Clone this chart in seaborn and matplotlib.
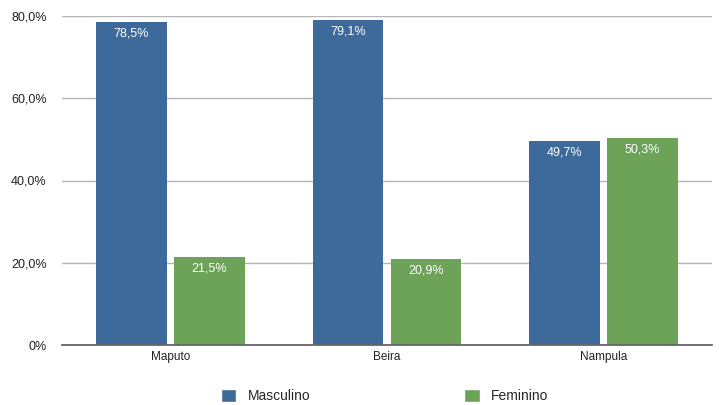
import matplotlib
matplotlib.use("Agg")
import matplotlib.pyplot as plt
import pandas as pd
import seaborn as sns
from matplotlib.patches import Patch

cities = ["Maputo", "Beira", "Nampula"]
masculino = [78.5, 79.1, 49.7]
feminino = [21.5, 20.9, 50.3]
series = ["Masculino", "Feminino"]
colors = ["#3d6a9b", "#6ca358"]
yticks = [0, 20, 40, 60, 80]
ytick_labels = ["0%", "20,0%", "40,0%", "60,0%", "80,0%"]

df = pd.DataFrame({
    "cidade": cities * 2,
    "sexo": [series[0]] * 3 + [series[1]] * 3,
    "valor": masculino + feminino,
})

sns.set_theme(style="white")
plt.rcParams["font.family"] = ["Liberation Sans", "DejaVu Sans"]

fig = plt.figure(figsize=(7.19, 4.05), dpi=100)
ax = fig.add_axes([62 / 719, 60 / 405, 650 / 719, 329 / 405])

sns.barplot(data=df, x="cidade", y="valor", hue="sexo", order=cities,
            hue_order=series, palette=colors, width=0.72, gap=0.09,
            saturation=1, legend=False, linewidth=0, ax=ax)

for cont in ax.containers:
    for bar in cont:
        h = bar.get_height()
        ax.annotate(f"{h:.1f}%".replace(".", ","),
                    (bar.get_x() + bar.get_width() / 2, h),
                    xytext=(0, -4), textcoords="offset points",
                    ha="center", va="top", color="white", fontsize=9)

ax.set_ylim(0, 80)
ax.set_xlim(-0.5, 2.5)
ax.set_yticks(yticks)
ax.set_yticklabels(ytick_labels, fontsize=9, color="#222222")
ax.tick_params(axis="x", labelsize=8.5, colors="#222222", length=0, pad=4)
ax.tick_params(axis="y", length=0, pad=11)
ax.set_xlabel("")
ax.set_ylabel("")
ax.yaxis.grid(True, color="#b5b5b5", linewidth=1)
ax.set_axisbelow(True)
for side in ["top", "right", "left"]:
    ax.spines[side].set_visible(False)
ax.spines["bottom"].set_color("#666666")
ax.spines["bottom"].set_linewidth(1.3)

handles = [Patch(facecolor=c, label=s) for c, s in zip(colors, series)]
fig.legend(handles=handles, loc="center", bbox_to_anchor=(0.535, 0.022),
           ncol=2, frameon=False, fontsize=10, handlelength=1.1, handleheight=1.1,
           columnspacing=11.1, handletextpad=0.8)

fig.savefig("out.png", dpi=100)
